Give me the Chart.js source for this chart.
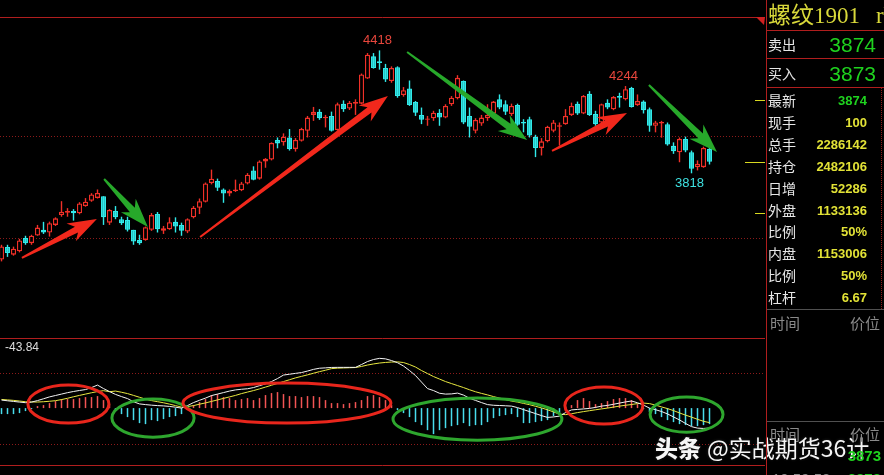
<!DOCTYPE html>
<html>
<head>
<meta charset="utf-8">
<script src="https://cdn.jsdelivr.net/npm/chart.js@4.4.1/dist/chart.umd.min.js"></script>
<style>
  html, body { margin: 0; padding: 0; background: #000; overflow: hidden; }
  #stage { position: relative; width: 884px; height: 475px; background: #000; overflow: hidden; }
  #kline { position: absolute; left: 0; top: 0; }
  #macd { position: absolute; left: 0; top: 338px; }
  .t { position: absolute; white-space: nowrap; line-height: 1; transform: translateY(-50%); }
  .cn { font-family: "Noto Sans CJK SC", sans-serif; font-size: 14px; color: #e6e6e6; }
  .num { font-family: "Liberation Sans", Arial, sans-serif; font-weight: bold; font-size: 13px; color: #e2e236; }
  .big { font-family: "Liberation Sans", Arial, sans-serif; font-size: 21px; color: #1fd21f; }
  .ln { position: absolute; }
  #mark { position: absolute; left: 655px; top: 447px; transform: translateY(-50%); white-space: nowrap;
          color: #f6f6f6; font-family: "Noto Sans CJK SC", sans-serif; font-size: 23px; line-height: 1;
          text-shadow: 1px 1px 2px rgba(0,0,0,0.9), 0 0 3px rgba(60,60,60,0.8); }
  #mark b { font-weight: 900; margin-right: 6px; }
</style>
</head>
<body>
<div id="stage">
  <canvas id="kline" width="765" height="338"></canvas>
  <canvas id="macd" width="765" height="137"></canvas>
  <div id="mark"><b>头条</b>@实战期货36计</div>
</div>
<script>
// ---- price bars (daily, 螺纹1901) ----
const opens = [3397,3458,3421,3437,3502,3477,3514,3542,3529,3566,
  3614,3626,3634,3623,3658,3684,3698,3706,3577,3634,
  3594,3590,3542,3493,3493,3542,3619,3538,3545,3582,
  3566,3534,3603,3650,3679,3771,3780,3739,3719,3731,
  3735,3768,3832,3792,3876,3885,3981,3969,3993,3937,
  3977,4026,4103,4118,4087,4098,4029,4158,4134,4158,
  4158,4281,4389,4365,4332,4268,4336,4200,4232,4166,
  4103,4079,4087,4114,4090,4155,4184,4268,4098,4026,
  4061,4087,4110,4179,4155,4107,4152,4069,4082,3997,
  3942,3974,4026,4045,4058,4103,4158,4110,4206,4108,
  4066,4163,4131,4195,4179,4235,4152,4168,4131,4050,
  4061,4058,3953,3921,3986,3921,3848,3848,3937];
const highs = [3469,3469,3460,3498,3513,3518,3566,3581,3582,3603,
  3682,3648,3643,3677,3697,3721,3739,3706,3643,3658,
  3606,3606,3542,3518,3558,3624,3629,3561,3603,3603,
  3577,3598,3658,3695,3773,3836,3792,3744,3739,3787,
  3776,3819,3852,3881,3892,3969,3993,4013,4034,3990,
  4040,4098,4142,4131,4103,4119,4163,4174,4171,4179,
  4305,4405,4405,4418,4352,4340,4340,4239,4271,4171,
  4139,4098,4123,4131,4155,4195,4297,4271,4139,4087,
  4103,4155,4171,4203,4174,4158,4158,4082,4094,4006,
  3990,4050,4078,4066,4131,4163,4168,4200,4219,4123,
  4158,4179,4195,4211,4244,4240,4203,4174,4139,4074,
  4074,4066,3969,3993,3997,3929,3881,3948,3945];
const lows = [3388,3410,3416,3432,3469,3469,3513,3522,3509,3561,
  3606,3606,3587,3618,3655,3679,3695,3566,3566,3594,
  3566,3534,3469,3469,3489,3537,3529,3522,3542,3529,
  3513,3526,3598,3619,3676,3764,3732,3674,3706,3727,
  3731,3764,3784,3787,3845,3881,3940,3953,3929,3924,
  3973,3993,4074,4079,4042,4022,4026,4118,4127,4103,
  4155,4279,4329,4324,4264,4260,4187,4192,4147,4098,
  4058,4050,4074,4050,4087,4147,4179,4058,3993,4013,
  4050,4074,4107,4131,4103,4098,4050,4018,3993,3897,
  3905,3969,4018,3953,4055,4098,4103,4107,4098,4050,
  4061,4131,4126,4139,4174,4139,4147,4110,4021,4018,
  3992,3953,3913,3872,3921,3818,3832,3845,3861];
const closes = [3461,3429,3450,3490,3477,3513,3553,3529,3574,3598,
  3630,3634,3623,3671,3679,3715,3722,3603,3639,3603,
  3574,3542,3485,3477,3555,3614,3545,3550,3579,3558,
  3538,3594,3650,3682,3768,3792,3747,3719,3731,3739,
  3768,3811,3787,3876,3889,3966,3964,3997,3937,3981,
  4034,4090,4118,4087,4094,4026,4155,4131,4163,4166,
  4300,4397,4332,4356,4276,4332,4195,4224,4152,4114,
  4079,4085,4114,4090,4147,4187,4284,4066,4045,4078,
  4090,4103,4168,4139,4119,4147,4055,4061,4002,3942,
  3974,4045,4066,4053,4098,4147,4110,4195,4103,4057,
  4155,4139,4190,4187,4228,4142,4171,4126,4050,4066,
  4069,3958,3926,3986,3929,3840,3865,3942,3874];

// ---- MACD ----
const diffs = [17.6,16.1,14.7,13.2,11.9,13.2,16.5,20.5,24.6,27.7,
  30.8,33.9,36.5,38.7,40.7,45.1,50.6,42.9,36.3,30.1,
  25.3,20.9,13.9,9.2,7.7,6.4,5.5,4.8,3.7,2.0,
  0,5.5,12.1,17.2,22,27.5,30.8,34.1,37.4,40,
  41.4,42.5,45.1,49.3,53.2,58.3,64.9,72.6,74.4,76.3,
  78.1,81.4,85.1,87.6,88.4,89.3,89.5,89.5,89.5,89.5,
  95.7,102.3,106.7,109.3,108.2,104.5,99.7,92.4,82.5,71.5,
  57.2,42.9,38.5,32.6,30.8,31.2,33,28.6,21.6,16.9,
  12.1,7.7,6.2,5.7,5.1,4.4,1.1,-3.3,-7.7,-12.1,
  -16.5,-20.5,-19.4,-17.6,-9.9,-4,-2.9,-1.8,-0.7,1.5,
  4.4,5.9,8.4,11,13.6,15.6,11.7,6.6,0,-3.5,
  -7.5,-12.8,-19.4,-26,-33.7,-40.7,-44,-44.7,-43.84];
const deas = [19,18,17,15.5,14,13.5,13.3,14,15,16.3,
  18.7,21.6,24.9,27.9,30.8,33.7,36.3,38.3,36,37.4,
  34.8,31.9,27.9,23.8,19.8,16.5,14.1,11.7,8.8,5.5,
  2.2,3.3,5.5,8.6,11.4,14.7,18,21.3,24.6,27.9,
  31.9,35.2,38.5,42.2,46.2,50.2,54.3,58.3,62.3,66.4,
  69.7,73,76.6,80.1,83.2,86.7,87.8,88.2,88.7,89.1,
  91.5,94.6,97,99,100.3,101.2,101.6,100.1,95.7,90.2,
  82.5,75.9,69.3,63.8,58.3,53.9,49.5,45.1,40.3,35.9,
  32.3,29,25.3,22,18.7,15.4,13.2,10.3,7.5,4,
  0.4,-3.7,-8.4,-13.2,-14.3,-12.5,-9.9,-7.7,-5.7,-3.7,
  -1.8,0,2.2,4.4,6.2,7.9,9.9,11,9.9,6.6,
  2.6,-1.1,-5.5,-10.6,-15.4,-19.8,-24.6,-29,-31.9];
const hists = [-13.2,-13.2,-13.2,-11,-6.6,-2.2,4.4,6.6,11,15.4,
  19.8,19.8,19.8,22,24.2,24.2,26.4,17.6,8.8,-6.6,
  -13.2,-19.8,-26.4,-33,-35.2,-26.4,-28.6,-24.2,-19.8,-17.6,
  -13.2,2.2,6.6,13.2,19.8,28.6,30.8,24.2,22,17.6,
  19.8,22,17.6,22,28.6,33,35.2,30.8,26.4,26.4,
  24.2,26.4,26.4,24.2,17.6,11,11,8.8,11,13.2,
  17.6,26.4,28.6,24.2,17.6,6.6,-4.4,-11,-19.8,-30.8,
  -37.4,-48.4,-57.2,-48.4,-44,-39.6,-37.4,-33,-39.6,-37.4,
  -37.4,-30.8,-22,-17.6,-15.4,-13.2,-19.8,-33,-33,-30.8,
  -28.6,-26.4,-17.6,-11,2.2,6.6,17.6,22,15.4,8.8,
  11,15.4,19.8,22,22,17.6,8.8,-2.2,-8.8,-13.2,
  -19.8,-26.4,-30.8,-35.2,-37.4,-39.6,-39.6,-37.4,-35.2];

// grid / tick values
const priceGrid = [4000, 3500];
const priceTicks = [4176, 3624];
const macdGrid = [77, -79];
// extreme markers: bar index + which end
const extremes = [[63, 'high'], [104, 'high'], [115, 'low']];

// drawn annotations, in data units (bar index, price / macd value)
const arrows = [
  [[3.4, 3405], [15.9, 3595], 'up'],
  [[17.1, 3790], [24.4, 3556], 'down'],
  [[33.1, 3507], [64.4, 4195], 'up'],
  [[67.6, 4410], [87.6, 3980], 'down'],
  [[91.75, 3927], [104.25, 4112], 'up'],
  [[107.9, 4249], [119.25, 3922], 'down']
];
const rings = [
  [[4.4, 17.9], [50.6, -33], 'up'],
  [[18.4, 32.1], [19.8, -63.8], 'down'],
  [[30.25, 64.9], [55, -33], 'up'],
  [[65.25, 93.4], [22, -70.4], 'down'],
  [[93.9, 106.9], [46.2, -35.2], 'up'],
  [[108.1, 120.25], [24.2, -52.8], 'down']
];

// side quote panel
const quoteTitle = '螺纹1901';
const askBid = [['卖出', '3874'], ['买入', '3873']];
const quoteLabels = ['最新', '现手', '总手', '持仓', '日增', '外盘', '比例', '内盘', '比例', '杠杆'];
const quoteValues = ['3874', '100', '2286142', '2482106', '52286', '1133136', '50%', '1153006', '50%', '6.67'];

const RED = '#f03028', CYAN = '#30eaea';
const GRID = '#b01e1e', DOT = '#8c1a1a';
const ARROW = {up: '#f2281c', down: '#27a82a'};
const RING = {up: '#e8261c', down: '#2ea62e'};

const idx = opens.map((_, i) => i);
const up = i => closes[i] >= opens[i];

function hline(ctx, x0, x1, y, color, dash) {
  ctx.save();
  ctx.strokeStyle = color;
  ctx.lineWidth = 1;
  ctx.setLineDash(dash || []);
  ctx.beginPath();
  ctx.moveTo(x0, Math.round(y) + 0.5);
  ctx.lineTo(x1, Math.round(y) + 0.5);
  ctx.stroke();
  ctx.restore();
}

function drawArrow(ctx, x0, y0, x1, y1, color) {
  const dx = x1 - x0, dy = y1 - y0, len = Math.hypot(dx, dy);
  const ux = dx / len, uy = dy / len, nx = -uy, ny = ux;
  const headLen = 23, headHalf = 10, neckHalf = 3.3, tailHalf = 1, sweep = 6;
  const bx = x1 - ux * headLen, by = y1 - uy * headLen;
  const wx = bx - ux * sweep, wy = by - uy * sweep;
  ctx.beginPath();
  ctx.moveTo(x0 + nx * tailHalf, y0 + ny * tailHalf);
  ctx.lineTo(bx + nx * neckHalf, by + ny * neckHalf);
  ctx.lineTo(wx + nx * headHalf, wy + ny * headHalf);
  ctx.lineTo(x1, y1);
  ctx.lineTo(wx - nx * headHalf, wy - ny * headHalf);
  ctx.lineTo(bx - nx * neckHalf, by - ny * neckHalf);
  ctx.lineTo(x0 - nx * tailHalf, y0 - ny * tailHalf);
  ctx.closePath();
  ctx.fillStyle = color;
  ctx.fill();
}

const klineDecor = {
  id: 'klineDecor',
  beforeDatasetsDraw(chart) {
    const {ctx, chartArea: a, scales: {y}} = chart;
    hline(ctx, a.left, a.right, a.top, GRID);
    priceGrid.forEach(v => hline(ctx, a.left, a.right, y.getPixelForValue(v), DOT, [1, 2]));
  },
  afterDatasetsDraw(chart) {
    const {ctx, chartArea: a, scales: {x, y}} = chart;
    ctx.save();
    // corner marker
    ctx.fillStyle = '#d02020';
    ctx.beginPath();
    ctx.moveTo(a.right - 9, a.top);
    ctx.lineTo(a.right, a.top);
    ctx.lineTo(a.right - 1, a.top + 8);
    ctx.closePath();
    ctx.fill();
    // right side ticks
    ctx.fillStyle = '#d8d820';
    priceTicks.forEach(v => ctx.fillRect(a.right - 10, Math.round(y.getPixelForValue(v)), 10, 1));
    ctx.fillRect(a.right - 20, Math.round(y.getPixelForValue(closes[closes.length - 1])), 20, 1);
    // extreme labels
    ctx.font = '13px "Liberation Sans", Arial, sans-serif';
    ctx.textAlign = 'center';
    ctx.textBaseline = 'middle';
    extremes.forEach(([i, kind]) => {
      const v = kind === 'high' ? highs[i] : lows[i];
      const py = y.getPixelForValue(v);
      ctx.fillStyle = kind === 'high' ? '#e8463c' : '#3ee0e0';
      ctx.fillText(String(v), x.getPixelForValue(i) - 2, kind === 'high' ? py - 10 : py + 10);
    });
    // trend arrows
    arrows.forEach(([p0, p1, dir]) => {
      drawArrow(ctx, x.getPixelForValue(p0[0]), y.getPixelForValue(p0[1]),
        x.getPixelForValue(p1[0]), y.getPixelForValue(p1[1]), ARROW[dir]);
    });
    ctx.restore();
  }
};

const macdDecor = {
  id: 'macdDecor',
  beforeDatasetsDraw(chart) {
    const {ctx, chartArea: a, scales: {y}} = chart;
    hline(ctx, a.left, a.right, a.top, GRID);
    hline(ctx, a.left, a.right, a.bottom, GRID);
    macdGrid.forEach(v => hline(ctx, a.left, a.right, y.getPixelForValue(v), DOT, [1, 2]));
  },
  afterDatasetsDraw(chart) {
    const {ctx, chartArea: a, scales: {x, y}} = chart;
    ctx.save();
    ctx.lineWidth = 3;
    rings.forEach(([xs, vs, dir]) => {
      const l = x.getPixelForValue(xs[0]), r = x.getPixelForValue(xs[1]);
      const t = y.getPixelForValue(vs[0]), b = y.getPixelForValue(vs[1]);
      ctx.strokeStyle = RING[dir];
      ctx.beginPath();
      ctx.ellipse((l + r) / 2, (t + b) / 2, (r - l) / 2, (b - t) / 2, 0, 0, Math.PI * 2);
      ctx.stroke();
    });
    ctx.fillStyle = '#dcdcdc';
    ctx.font = '12px "Liberation Sans", Arial, sans-serif';
    ctx.textAlign = 'left';
    ctx.textBaseline = 'middle';
    ctx.fillText(diffs[diffs.length - 1].toFixed(2), a.left + 5, a.top + 10);
    ctx.restore();
  }
};

const baseOpts = {
  responsive: false,
  animation: false,
  events: [],
  plugins: {legend: {display: false}, tooltip: {enabled: false}},
};
const xAxis = {type: 'linear', min: -0.25, max: 127.25, offset: false, display: false};

new Chart(document.getElementById('kline'), {
  type: 'bar',
  data: {
    datasets: [
      {
        label: 'body',
        data: idx.map(i => ({x: i, y: [Math.min(opens[i], closes[i]), Math.max(opens[i], closes[i])]})),
        backgroundColor: idx.map(i => up(i) ? '#000' : CYAN),
        borderColor: idx.map(i => up(i) ? RED : CYAN),
        borderWidth: 1.3,
        borderSkipped: false,
        barThickness: 5,
        minBarLength: 1,
        inflateAmount: 0,
        grouped: false,
        order: 0
      },
      {
        label: 'wick',
        data: idx.map(i => ({x: i, y: [lows[i], highs[i]]})),
        backgroundColor: idx.map(i => up(i) ? RED : CYAN),
        barThickness: 1.4,
        inflateAmount: 0,
        grouped: false,
        order: 1
      }
    ]
  },
  options: Object.assign({}, baseOpts, {
    layout: {padding: {top: 17, left: 0, right: 0, bottom: 0}},
    scales: {
      x: xAxis,
      y: {min: 3014, max: 4581, display: false}
    }
  }),
  plugins: [klineDecor]
});

new Chart(document.getElementById('macd'), {
  type: 'bar',
  data: {
    datasets: [
      {
        type: 'line', label: 'DIFF',
        data: idx.map(i => ({x: i, y: diffs[i]})),
        borderColor: '#f2f2f2', borderWidth: 1, pointRadius: 0, tension: 0, order: 0
      },
      {
        type: 'line', label: 'DEA',
        data: idx.map(i => ({x: i, y: deas[i]})),
        borderColor: '#e8e840', borderWidth: 1, pointRadius: 0, tension: 0, order: 1
      },
      {
        label: 'MACD',
        data: idx.map(i => ({x: i, y: hists[i]})),
        backgroundColor: idx.map(i => hists[i] >= 0 ? '#f25454' : '#48dcec'),
        barThickness: 1.5,
        inflateAmount: 0,
        grouped: false,
        order: 2
      }
    ]
  },
  options: Object.assign({}, baseOpts, {
    layout: {padding: {top: 0, left: 0, right: 0, bottom: 10}},
    scales: {
      x: xAxis,
      y: {min: -125, max: 154, display: false}
    }
  }),
  plugins: [macdDecor]
});

// ---- quote panel on the right ----
const stage = document.getElementById('stage');
function box(x, y, w, h, css) {
  const d = document.createElement('div');
  d.className = 'ln';
  Object.assign(d.style, {left: x + 'px', top: y + 'px', width: w + 'px', height: h + 'px'}, css);
  stage.appendChild(d);
}
function text(str, cls, pos, css) {
  const d = document.createElement('div');
  d.className = 't ' + cls;
  d.textContent = str;
  Object.assign(d.style, pos, css || {});
  stage.appendChild(d);
}

box(766, 0, 1, 475, {background: GRID});
box(766, 30, 118, 1, {background: GRID});
box(766, 58, 118, 1, {background: GRID});
box(766, 87, 118, 1, {background: GRID});
box(881, 88, 0, 221, {borderLeft: '1px dotted ' + DOT});
box(767, 309, 117, 1, {background: '#505050'});

text(quoteTitle, '', {left: '768px', top: '15px'},
  {fontFamily: '"Liberation Serif", "Noto Sans CJK SC", serif', fontSize: '23px', color: '#d8d83a'});
text('rb', '', {left: '876px', top: '15px'},
  {fontFamily: '"Liberation Serif", serif', fontSize: '23px', color: '#d8d83a'});

askBid.forEach(([lab, val], k) => {
  const cy = 44 + k * 29;
  text(lab, 'cn', {left: '768px', top: cy + 'px'});
  text(val, 'big', {right: '8px', top: cy + 'px'});
});

quoteLabels.forEach((lab, k) => {
  const cy = 100 + k * 21.9;
  text(lab, 'cn', {left: '768px', top: cy + 'px'});
  text(quoteValues[k], 'num', {right: '17px', top: cy + 'px'}, k === 0 ? {color: '#1fd21f'} : {});
});

text('时间', 'cn', {left: '770px', top: '322px'}, {color: '#8a8a8a', fontSize: '15px'});
text('价位', 'cn', {right: '4px', top: '322px'}, {color: '#8a8a8a', fontSize: '15px'});
box(767, 421, 117, 1, {background: '#505050'});
text('时间', 'cn', {left: '770px', top: '433px'}, {color: '#8a8a8a', fontSize: '15px'});
text('价位', 'cn', {right: '4px', top: '433px'}, {color: '#8a8a8a', fontSize: '15px'});
text('3873', 'num', {right: '3px', top: '455px'}, {color: '#1fd21f', fontSize: '15px'});
text('10:59:58', 'num', {left: '772px', top: '478px'}, {color: '#8a8a8a', fontWeight: 'normal', fontSize: '15px'});
text('3873', 'num', {right: '3px', top: '478px'}, {color: '#1fd21f', fontSize: '15px'});
</script>
</body>
</html>
